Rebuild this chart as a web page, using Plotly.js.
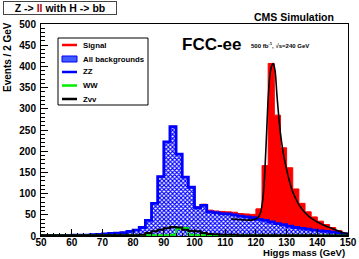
<!DOCTYPE html>
<html><head><meta charset="utf-8">
<script src="https://cdn.plot.ly/plotly-3.0.1.min.js"></script>
<style>html,body{margin:0;padding:0;background:#fff}#c{width:359px;height:259px}</style>
</head><body><div id="c"></div>
<script>
// Bin lower edges (2 GeV bins)
const binStart = [50,52,54,56,58,60,62,64,66,68,70,72,74,76,78,80,82,84,86,88,90,92,94,96,98,100,102,104,106,108,110,112,114,116,118,120,122,124,126,128,130,132,134,136,138,140,142,144,146,148];
const binEnd = 150;
// All backgrounds (events / 2 GeV)
const allBkg = [1,1,1,1,1,2,2,2,3,4,5,6,7,8,11,14,20,37,77,140,222,258,193,139,115,67,72,57,55,53,52,50,47,45,43,39,37,33,29,27,23,20,18,16,14,12,11,9,7,5];
// Signal (stacked on top of backgrounds)
const signal = [0,0,0,0,0,0,1,1,1,1,1,1,1,1,1,1,1,1,1,1,1,1,1,1,1,2,3,4,4,5,5,6,6,7,8,25,129,374,256,181,138,91,59,41,31,23,16,11,6,2];
// WW
const ww = [1,1,1,1,1,1,1,1,1,1,1,1,1,1,2,2,2,2,2,2,2,3,17,19,3,2,2,2,2,2,2,2,2,2,2,2,1,1,1,1,1,1,1,1,1,1,1,1,1,1];
// Zvv
const zvv = [2,2,2,2,2,2,2,2,2,2,2,2,2,2,2,2,3,7,11,15,18,21,20,15,12,11,7,5,4,3,3,3,2,2,2,2,2,2,2,2,2,2,2,2,2,1,1,1,1,1];
// Fit curve
const fitMass = [112,116,119,120.5,121.5,122,122.5,123,123.5,124,124.5,125,125.6,126.2,126.8,127.5,128,129,130,131,132,133,134,136,138,140,142,144,146,148,150];
const fitVal  = [40,38,38,42,55,73,105,165,245,325,375,398,407,392,337,277,242,192,157,127,104,88,74,55,42,33,26,20,14,9,5];

const edges = binStart.concat([binEnd]);
const step = v => v.concat([v[v.length-1]]);
const total = allBkg.map((b,i)=>b+signal[i]);

const traces = [
  {x: edges, y: step(total), type:'scatter', mode:'lines', line:{shape:'hv', color:'#ff0000', width:1},
   fill:'tozeroy', fillcolor:'#ff0000', showlegend:false, hoverinfo:'skip'},
  {x: edges, y: step(allBkg), type:'scatter', mode:'lines', line:{shape:'hv', color:'#0000ff', width:2.8},
   fill:'tozeroy', fillpattern:{shape:'x', fgcolor:'#0000ff', bgcolor:'#ffffff', size:3, solidity:0.6, fillmode:'replace'},
   showlegend:false, hoverinfo:'skip'},
  {x: edges, y: step(ww), type:'scatter', mode:'lines', line:{shape:'hv', color:'#00ee00', width:2}, showlegend:false},
  {x: edges, y: step(zvv), type:'scatter', mode:'lines', line:{shape:'hv', color:'#000000', width:2}, showlegend:false},
  {x: fitMass, y: fitVal, type:'scatter', mode:'lines', line:{shape:'spline', color:'#000000', width:1.6}, showlegend:false}
];

const L=41, R=348, T=24, B=236;
const xp = px => (px-L)/(R-L);
const yp = py => (B-py)/(B-T);
const F = 'Liberation Sans, Arial, sans-serif';

const legendItems = [
  {label:'Signal', color:'#ff0000', kind:'line'},
  {label:'All backgrounds', color:'#0000ff', kind:'box'},
  {label:'ZZ', color:'#0000ff', kind:'line'},
  {label:'WW', color:'#00ee00', kind:'line'},
  {label:'Zvv', color:'#000000', kind:'line'}
];
const legRows = [45,59,72,85.5,99];

const shapes = [
  {type:'rect', xref:'paper', yref:'paper', x0:xp(58), x1:xp(148), y0:yp(105), y1:yp(38), line:{color:'#000', width:1}, fillcolor:'#fff', layer:'above'}
];
const annotations = [];
legendItems.forEach((it,i)=>{
  const r = legRows[i];
  if (it.kind==='line') {
    shapes.push({type:'line', xref:'paper', yref:'paper', x0:xp(62), x1:xp(77), y0:yp(r), y1:yp(r), line:{color:it.color, width:2.5}, layer:'above'});
  } else {
    shapes.push({type:'rect', xref:'paper', yref:'paper', x0:xp(62), x1:xp(77), y0:yp(r+3), y1:yp(r-3), line:{color:it.color, width:1}, fillcolor:'#3f5cff', layer:'above'});
  }
  annotations.push({xref:'paper', yref:'paper', x:xp(81), y:yp(r), xanchor:'left', yanchor:'middle', showarrow:false,
    text:'<b>'+it.label+'</b>', font:{family:F, size:7.8, color:'#000'}});
});

annotations.push(
  {xref:'paper', yref:'paper', x:xp(3), y:yp(1), xanchor:'left', yanchor:'top', showarrow:false,
   text:"<b>Z -> <span style='color:#b00000'>ll</span> with H -> bb</b>", font:{family:F, size:10.5, color:'#000'},
   bordercolor:'#444', borderwidth:1, borderpad:0, bgcolor:'#fff', width:112, height:12},
  {xref:'paper', yref:'paper', x:xp(294), y:yp(17.5), xanchor:'center', yanchor:'middle', showarrow:false,
   text:'<b>CMS Simulation</b>', font:{family:F, size:10.5, color:'#000'}},
  {xref:'paper', yref:'paper', x:xp(180), y:yp(44), xanchor:'left', yanchor:'middle', showarrow:false,
   text:'<b>FCC-ee</b>', font:{family:F, size:17, color:'#000'}},
  {xref:'paper', yref:'paper', x:xp(249), y:yp(44.5), xanchor:'left', yanchor:'middle', showarrow:false,
   text:'<b>500 fb<sup>-1</sup>, √s=240 GeV</b>', font:{family:F, size:6, color:'#000'}},
  {xref:'paper', yref:'paper', x:xp(7), y:yp(20), xanchor:'center', yanchor:'top', textangle:-90, showarrow:false,
   text:'<b>Events / 2 GeV</b>', font:{family:F, size:10, color:'#000'}},
  {xref:'paper', yref:'paper', x:xp(347), y:yp(252.5), xanchor:'right', yanchor:'middle', showarrow:false,
   text:'<b>Higgs mass (GeV)</b>', font:{family:F, size:9.6, color:'#000'}}
);

const layout = {
  width:359, height:259,
  margin:{l:L, r:359-R, t:T, b:259-B, pad:0},
  paper_bgcolor:'#fff', plot_bgcolor:'#fff',
  showlegend:false,
  xaxis:{range:[50,150], dtick:10, tick0:50, ticks:'inside', ticklen:7, tickwidth:1, tickcolor:'#000',
    minor:{dtick:2, ticks:'inside', ticklen:3, tickcolor:'#000'},
    showline:true, linecolor:'#000', linewidth:1, mirror:true, showgrid:false, zeroline:false,
    tickfont:{family:F, size:10, color:'#000', weight:'bold'}, ticklabelstandoff:-3, fixedrange:true},
  yaxis:{range:[0,500], dtick:50, tick0:0, ticks:'inside', ticklen:7, tickwidth:1, tickcolor:'#000',
    minor:{dtick:10, ticks:'inside', ticklen:3.5, tickcolor:'#000'},
    showline:true, linecolor:'#000', linewidth:1, mirror:true, showgrid:false, zeroline:false,
    tickfont:{family:F, size:10, color:'#000', weight:'bold'}, ticklabelstandoff:2, fixedrange:true},
  shapes: shapes,
  annotations: annotations
};
Plotly.newPlot('c', traces, layout, {staticPlot:true, displayModeBar:false});
</script></body></html>
